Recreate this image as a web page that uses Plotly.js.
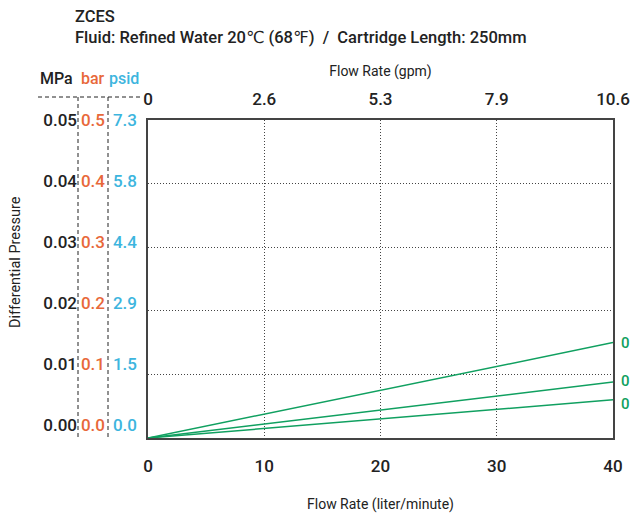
<!DOCTYPE html>
<html>
<head>
<meta charset="utf-8">
<script src="https://cdn.plot.ly/plotly-3.0.1.min.js"></script>
<style>html,body{margin:0;padding:0;background:#fff;}#chart{width:633px;height:515px;}</style>
</head>
<body>
<div id="chart"></div>
<script>
// ---- data ----
const flowLpm = [0, 40];
const seriesNames = ['0', '0', '0'];
const seriesEnd = [0.015, 0.0088, 0.006];   // MPa at 40 L/min
const lpmTicks = [0, 10, 20, 30, 40];
const gpmLabels = ['0', '2.6', '5.3', '7.9', '10.6'];
const mpaTicks = [0, 0.01, 0.02, 0.03, 0.04, 0.05];
const mpaLabels = ['0.00', '0.01', '0.02', '0.03', '0.04', '0.05'];
const barLabels = ['0.0', '0.1', '0.2', '0.3', '0.4', '0.5'];
const psidLabels = ['0.0', '1.5', '2.9', '4.4', '5.8', '7.3'];

const FONT = 'Roboto, "DejaVu Sans", sans-serif';
const DARK = '#222222';
const ORANGE = '#e8683a';
const BLUE = '#3db5de';
const GREEN = '#10a060';
const W = 613; // paper width in px (l=0, r=20)
const px = x => x / W;
const py = y => (438 - y) / 318;
const labelRange = [-0.00213, 0.05]; // scale label columns as printed in source
const labelShift = [0, 1, -4];

const traces = seriesEnd.map((v, i) => ({
  x: flowLpm,
  y: [0, v],
  mode: 'lines',
  line: {color: GREEN, width: 1.5},
  hoverinfo: 'skip',
  showlegend: false,
  xaxis: 'x', yaxis: 'y'
}));
['y2', 'y3', 'y4'].forEach(ya => traces.push({x: flowLpm, y: [0, 0], xaxis: 'x', yaxis: ya, mode: 'lines', line: {width: 0}, showlegend: false, hoverinfo: 'skip'}));
traces.push({x: flowLpm, y: [0, 0], xaxis: 'x2', yaxis: 'y', mode: 'lines', line: {width: 0}, showlegend: false, hoverinfo: 'skip'});

const tickFont = {family: FONT, size: 17, color: DARK, weight: 500};

const layout = {
  width: 633, height: 515,
  margin: {l: 0, r: 20, t: 120, b: 77},
  paper_bgcolor: '#fff', plot_bgcolor: '#fff',
  showlegend: false,
  title: {
    text: 'ZCES<br>Fluid: Refined Water 20℃ (68℉)  /  Cartridge Length: 250mm',
    x: 75 / 633, xref: 'container', xanchor: 'left',
    y: 1 - 22 / 515, yref: 'container', yanchor: 'top',
    font: {family: FONT, size: 16.5, color: DARK, weight: 500}
  },
  xaxis: {
    domain: [px(148), 1],
    range: [0, 40], tickvals: lpmTicks, ticktext: lpmTicks.map(String),
    showline: true, linecolor: '#444', linewidth: 1.5, mirror: true,
    showgrid: true, gridcolor: '#444', griddash: '1px,2px', gridwidth: 1,
    zeroline: false, ticks: '', ticklabelstandoff: 12,
    tickfont: tickFont,
    title: {text: 'Flow Rate (liter/minute)', font: {family: FONT, size: 14, color: DARK}, standoff: 24}
  },
  xaxis2: {
    overlaying: 'x', side: 'top', anchor: 'y',
    range: [0, 40], tickvals: lpmTicks, ticktext: gpmLabels,
    showline: false, showgrid: false, zeroline: false, ticks: '', ticklabelstandoff: 11,
    tickfont: tickFont,
    title: {text: 'Flow Rate (gpm)', font: {family: FONT, size: 14, color: DARK}, standoff: 8}
  },
  yaxis: {
    range: [0, 0.05], tickvals: mpaTicks.slice(1, 5),
    showline: true, linecolor: '#444', linewidth: 1.5, mirror: true,
    showgrid: true, gridcolor: '#444', griddash: '1px,2px', gridwidth: 1,
    zeroline: false, ticks: '', showticklabels: false
  },
  yaxis2: {
    overlaying: 'y', anchor: 'free', position: px(148), side: 'left',
    range: labelRange, tickvals: mpaTicks, ticktext: psidLabels,
    showline: false, showgrid: false, zeroline: false, ticks: '', ticklabelstandoff: 11,
    tickfont: {family: FONT, size: 17, color: BLUE, weight: 500}
  },
  yaxis3: {
    overlaying: 'y', anchor: 'free', position: px(108), side: 'left',
    range: labelRange, tickvals: mpaTicks, ticktext: barLabels,
    showline: false, showgrid: false, zeroline: false, ticks: '', ticklabelstandoff: 3,
    tickfont: {family: FONT, size: 17, color: ORANGE, weight: 500}
  },
  yaxis4: {
    overlaying: 'y', anchor: 'free', position: px(78), side: 'left',
    range: labelRange, tickvals: mpaTicks, ticktext: mpaLabels,
    showline: false, showgrid: false, zeroline: false, ticks: '', ticklabelstandoff: 1,
    tickfont: tickFont
  },
  shapes: [
    {type: 'line', xref: 'paper', yref: 'paper', x0: px(38), x1: px(143), y0: py(97), y1: py(97), line: {color: '#222', width: 1, dash: '4px,3px'}},
    {type: 'line', xref: 'paper', yref: 'paper', x0: px(78), x1: px(78), y0: py(97), y1: py(437), line: {color: '#222', width: 1, dash: '4px,3px'}},
    {type: 'line', xref: 'paper', yref: 'paper', x0: px(108), x1: px(108), y0: py(97), y1: py(437), line: {color: '#222', width: 1, dash: '4px,3px'}}
  ],
  annotations: [
    {text: 'MPa', xref: 'paper', yref: 'paper', x: px(75), y: py(78), xanchor: 'right', yanchor: 'middle', showarrow: false, font: {family: FONT, size: 16, color: DARK, weight: 500}},
    {text: 'bar', xref: 'paper', yref: 'paper', x: px(79), y: py(78), xanchor: 'left', yanchor: 'middle', showarrow: false, font: {family: FONT, size: 16, color: ORANGE, weight: 500}},
    {text: 'psid', xref: 'paper', yref: 'paper', x: px(107), y: py(78), xanchor: 'left', yanchor: 'middle', showarrow: false, font: {family: FONT, size: 16, color: BLUE, weight: 500}},
    {text: 'Differential Pressure', xref: 'paper', yref: 'paper', x: px(15), y: py(262), xanchor: 'center', yanchor: 'middle', textangle: -90, showarrow: false, font: {family: FONT, size: 14.5, color: DARK}}
  ].concat(seriesEnd.map((v, i) => ({
    text: seriesNames[i], xref: 'x', yref: 'y', x: flowLpm[1], y: v,
    xanchor: 'left', yanchor: 'middle', xshift: 6, yshift: labelShift[i], showarrow: false,
    font: {family: FONT, size: 15, color: GREEN, weight: 500}
  })))
};

Plotly.newPlot('chart', traces, layout, {displayModeBar: false, responsive: false});
</script>
</body>
</html>
